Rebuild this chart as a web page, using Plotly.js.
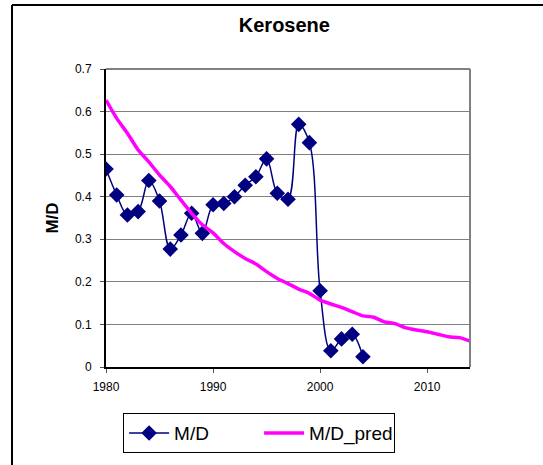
<!DOCTYPE html>
<html>
<head>
<meta charset="utf-8">
<script src="https://cdn.plot.ly/plotly-3.0.1.min.js"></script>
<style>html,body{margin:0;padding:0;background:#fff;}#chart{width:543px;height:465px;}</style>
</head>
<body>
<div id="chart"></div>
<script>
const mdYears = [1980,1981,1982,1983,1984,1985,1986,1987,1988,1989,1990,1991,1992,1993,1994,1995,1996,1997,1998,1999,2000,2001,2002,2003,2004];
const mdValues = [0.465,0.404,0.357,0.365,0.438,0.390,0.277,0.310,0.361,0.314,0.381,0.384,0.400,0.427,0.447,0.489,0.408,0.394,0.570,0.527,0.179,0.038,0.066,0.077,0.024];
const predYears = [1980,1981,1982,1983,1984,1985,1986,1987,1988,1989,1990,1991,1992,1993,1994,1995,1996,1997,1998,1999,2000,2001,2002,2003,2004,2005,2006,2007,2008,2009,2010,2011,2012,2013,2014];
const predValues = [0.627,0.584,0.549,0.510,0.482,0.451,0.424,0.392,0.361,0.334,0.315,0.290,0.271,0.255,0.242,0.224,0.208,0.196,0.183,0.173,0.157,0.148,0.140,0.130,0.120,0.117,0.106,0.102,0.092,0.087,0.083,0.077,0.071,0.069,0.061];
const xTicks = [1980,1990,2000,2010];
const yTicks = [0,0.1,0.2,0.3,0.4,0.5,0.6,0.7];
const yTickText = ["0","0.1","0.2","0.3","0.4","0.5","0.6","0.7"];

const traces = [
  {x: mdYears, y: mdValues, name: "M/D", type: "scatter", mode: "lines+markers",
   line: {color: "#000080", width: 1.5, shape: "spline", smoothing: 1},
   marker: {symbol: "diamond", size: 12, color: "#000080"}},
  {x: predYears, y: predValues, name: "M/D_pred", type: "scatter", mode: "lines",
   line: {color: "#FF00FF", width: 3.5, shape: "spline", smoothing: 0.6}}
];

const layout = {
  width: 543, height: 465,
  margin: {l: 106, r: 73, t: 69, b: 98, autoexpand: false},
  paper_bgcolor: "#ffffff", plot_bgcolor: "#ffffff",
  font: {family: "Arial, Liberation Sans, sans-serif", color: "#000"},
  title: {text: "<b>Kerosene</b>", font: {size: 20, family: "Arial, Liberation Sans, sans-serif", color: "#000"},
          x: 0.49, xanchor: "center", y: 1 - 25/465, yanchor: "middle", xref: "paper"},
  xaxis: {range: [1980, 2014], tickvals: xTicks, ticktext: xTicks.map(String),
          showgrid: false, zeroline: false, showline: true, linecolor: "#000", linewidth: 2,
          ticks: "outside", ticklen: 4, tickcolor: "#555", tickfont: {size: 12}, ticklabelstandoff: 4},
  yaxis: {range: [0, 0.7], tickvals: yTicks, ticktext: yTickText,
          showgrid: true, gridcolor: "#808080", gridwidth: 1, zeroline: false,
          showline: true, linecolor: "#000", linewidth: 2,
          ticks: "outside", ticklen: 4, tickcolor: "#555", tickfont: {size: 12}, ticklabelstandoff: 6,
          title: {text: "<b>M/D</b>", font: {size: 17}, standoff: 12}},
  showlegend: true,
  legend: {orientation: "h", x: 0.047, xanchor: "left", y: -0.155, yanchor: "top",
           bordercolor: "#000", borderwidth: 1, bgcolor: "#fff", font: {size: 19},
           entrywidth: 80, itemwidth: 40},
  shapes: [
    {type: "line", xref: "paper", yref: "paper", x0: 0, x1: 1, y0: 1, y1: 1, line: {color: "#808080", width: 2}},
    {type: "line", xref: "paper", yref: "paper", x0: 1, x1: 1, y0: 0, y1: 1, line: {color: "#808080", width: 2}},
    {type: "line", xref: "paper", yref: "paper", x0: -94/364, x1: -94/364, y0: (367-465)/298, y1: (367-5)/298, line: {color: "#000", width: 2}},
    {type: "line", xref: "paper", yref: "paper", x0: -94/364, x1: (543-106)/364, y0: (367-5)/298, y1: (367-5)/298, line: {color: "#000", width: 2}}
  ]
};

Plotly.newPlot("chart", traces, layout, {displayModeBar: false, staticPlot: true});
</script>
</body>
</html>
